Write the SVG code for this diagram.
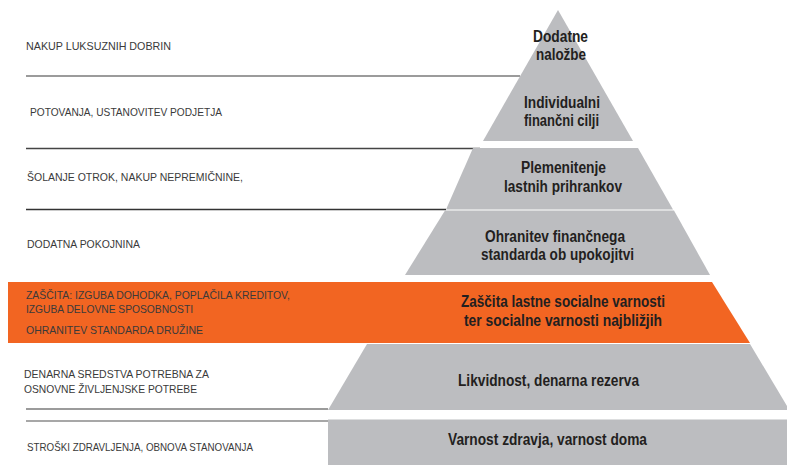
<svg xmlns="http://www.w3.org/2000/svg" width="787" height="465" viewBox="0 0 787 465">
  <style>
    .tier { fill: #bcbdc0; }
    .hot { fill: #f26522; }
    .t { font-family: "Liberation Sans", Arial, sans-serif; font-weight: bold; font-size: 16px; fill: #231f20; text-anchor: middle; }
    .s { font-family: "Liberation Sans", Arial, sans-serif; font-size: 11.5px; fill: #3a3a3a; }
    .sep { stroke-width: 1.5; fill: none; }
  </style>
  <rect width="787" height="465" fill="#ffffff"/>

  <g id="separators">
    <line class="sep" x1="26" y1="76" x2="520" y2="76" stroke="#7a7a7a"/>
    <line class="sep" x1="26" y1="148.5" x2="480" y2="148.5" stroke="#444444"/>
    <line class="sep" x1="26" y1="209.5" x2="446" y2="209.5" stroke="#333333"/>
    <line class="sep" x1="26" y1="409" x2="328" y2="409" stroke="#7a7a7a"/>
    <line class="sep" x1="26" y1="421" x2="328" y2="421" stroke="#8a8a8a"/>
  </g>

  <g id="tier-top">
    <polygon class="tier" points="558,10 633,141 483,141"/>
    <text class="t" x="560.5" y="42" textLength="55" lengthAdjust="spacingAndGlyphs">Dodatne</text>
    <text class="t" x="561" y="59.5" textLength="50" lengthAdjust="spacingAndGlyphs">naložbe</text>
    <text class="t" x="562" y="108" textLength="76" lengthAdjust="spacingAndGlyphs">Individualni</text>
    <text class="t" x="561.5" y="126" textLength="75" lengthAdjust="spacingAndGlyphs">finančni cilji</text>
  </g>

  <g id="tier-savings">
    <polygon class="tier" points="473,148 638,148 673,209.5 446,209.5"/>
    <text class="t" x="563.5" y="173" textLength="85" lengthAdjust="spacingAndGlyphs">Plemenitenje</text>
    <text class="t" x="563" y="192" textLength="118" lengthAdjust="spacingAndGlyphs">lastnih prihrankov</text>
  </g>

  <g id="tier-pension">
    <polygon class="tier" points="445,210.5 674,210.5 710,275 405,275"/>
    <text class="t" x="555" y="242" textLength="140" lengthAdjust="spacingAndGlyphs">Ohranitev finančnega</text>
    <text class="t" x="557.5" y="259.5" textLength="153" lengthAdjust="spacingAndGlyphs">standarda ob upokojitvi</text>
  </g>

  <g id="tier-protection">
    <polygon class="hot" points="8,282 712,282 750,343 8,343"/>
    <text class="t" x="563" y="307" textLength="204" lengthAdjust="spacingAndGlyphs">Zaščita lastne socialne varnosti</text>
    <text class="t" x="563" y="325.5" textLength="198" lengthAdjust="spacingAndGlyphs">ter socialne varnosti najbližjih</text>
  </g>

  <g id="tier-liquidity">
    <polygon class="tier" points="367,344 750,344 787,406 787,410 328,410"/>
    <text class="t" x="548.5" y="386" textLength="181" lengthAdjust="spacingAndGlyphs">Likvidnost, denarna rezerva</text>
  </g>

  <g id="tier-base">
    <rect class="tier" x="328" y="419.5" width="459" height="45.5"/>
    <text class="t" x="547.5" y="445" textLength="199" lengthAdjust="spacingAndGlyphs">Varnost zdravja, varnost doma</text>
  </g>

  <g id="labels-left">
    <text class="s" x="26" y="50" textLength="145" lengthAdjust="spacingAndGlyphs">NAKUP LUKSUZNIH DOBRIN</text>
    <text class="s" x="30" y="116" textLength="192" lengthAdjust="spacingAndGlyphs">POTOVANJA, USTANOVITEV PODJETJA</text>
    <text class="s" x="27" y="181" textLength="216" lengthAdjust="spacingAndGlyphs">ŠOLANJE OTROK, NAKUP NEPREMIČNINE,</text>
    <text class="s" x="27" y="248" textLength="113" lengthAdjust="spacingAndGlyphs">DODATNA POKOJNINA</text>
    <text class="s" x="26" y="299" textLength="264" lengthAdjust="spacingAndGlyphs">ZAŠČITA: IZGUBA DOHODKA, POPLAČILA KREDITOV,</text>
    <text class="s" x="26" y="313" textLength="167" lengthAdjust="spacingAndGlyphs">IZGUBA DELOVNE SPOSOBNOSTI</text>
    <text class="s" x="26" y="334" textLength="177" lengthAdjust="spacingAndGlyphs">OHRANITEV STANDARDA DRUŽINE</text>
    <text class="s" x="24" y="378" textLength="185" lengthAdjust="spacingAndGlyphs">DENARNA SREDSTVA POTREBNA ZA</text>
    <text class="s" x="24" y="392.5" textLength="173" lengthAdjust="spacingAndGlyphs">OSNOVNE ŽIVLJENJSKE POTREBE</text>
    <text class="s" x="27" y="451" textLength="226" lengthAdjust="spacingAndGlyphs">STROŠKI ZDRAVLJENJA, OBNOVA STANOVANJA</text>
  </g>
</svg>
